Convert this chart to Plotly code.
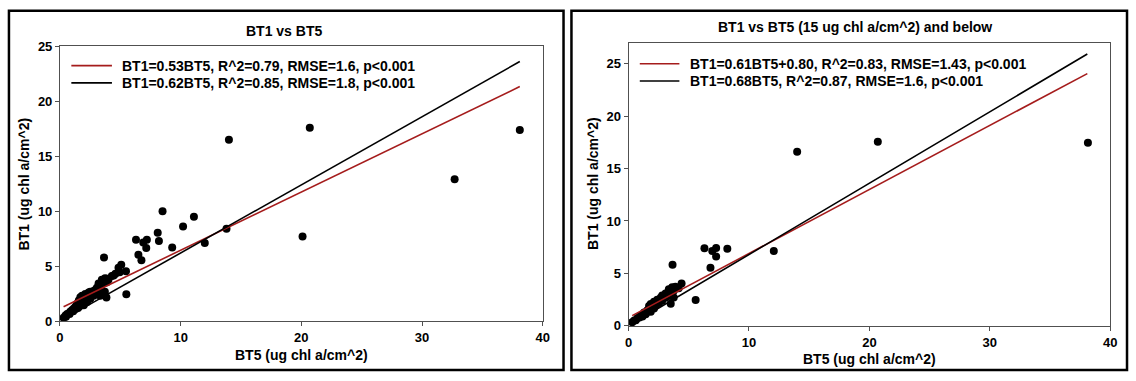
import plotly.graph_objects as go

# ---------------- data ----------------
# Left panel: all samples
bt5_all = [14.0, 20.7, 38.1, 32.7, 20.1, 13.8, 12.0, 11.1, 10.2, 9.3, 8.5, 8.1, 8.2, 7.2, 7.15, 6.9,
           6.5, 6.75, 6.3, 5.47, 5.5, 5.08, 3.65, 3.85, 3.72,
           4.3, 4.6, 4.85, 4.95, 4.45,
           3.47, 3.74, 4.02, 3.61, 3.88, 3.2, 3.9, 3.6,
           3.33, 3.06, 2.79, 2.51, 2.38, 2.1, 1.83, 1.69, 1.56, 1.83, 2.1, 1.42, 1.28, 1.01, 0.74,
           0.46, 0.3, 1.69, 1.97, 2.24, 2.51, 2.79, 3.06, 3.33, 3.33, 1.15, 0.87, 0.6, 1.42, 1.56,
           2.24, 2.46, 2.65, 2.92, 3.2, 3.47, 0.5, 0.8, 1.1, 1.3, 1.5]
bt1_all = [16.5, 17.6, 17.4, 12.9, 7.7, 8.4, 7.1, 9.5, 8.6, 6.7, 10.0, 8.05, 7.3, 7.4, 6.65, 7.15,
           6.05, 5.55, 7.4, 4.55, 2.45, 5.13, 5.8, 2.15, 2.68,
           4.1, 4.3, 4.85, 4.45, 4.15,
           3.77, 3.91, 3.77, 3.48, 3.54, 3.42, 3.85, 3.7,
           3.19, 3.04, 2.75, 2.67, 2.61, 2.46, 2.32, 2.17, 1.88, 1.88, 2.03, 1.59, 1.3, 1.01, 0.72,
           0.52, 0.3, 1.59, 1.45, 1.74, 2.03, 2.32, 2.61, 2.32, 2.75, 1.16, 0.87, 0.64, 1.3, 1.45,
           2.32, 2.38, 2.55, 2.84, 3.13, 3.33, 0.4, 0.65, 0.9, 1.1, 1.2]

# Right panel: subset
bt5_sub = [14.0, 20.7, 38.15, 12.06, 6.3, 6.95, 7.27, 8.2, 7.27, 6.8, 3.65, 4.4, 5.57, 3.5, 3.75,
           3.34, 3.62, 3.89, 4.16, 3.75, 3.48, 3.07, 2.79, 2.66, 2.38, 2.11, 1.84, 1.7, 1.97, 2.25,
           2.52, 1.56, 1.29, 1.01, 0.74, 0.47, 0.3, 1.84, 1.42, 1.15, 2.11, 2.79, 3.07, 3.34, 0.6,
           0.9, 1.2, 1.5, 1.95]
bt1_sub = [16.6, 17.55, 17.45, 7.15, 7.4, 7.15, 7.42, 7.35, 6.62, 5.55, 5.82, 4.05, 2.48, 2.12, 2.7,
           3.5, 3.68, 3.74, 3.59, 3.35, 3.29, 3.08, 2.9, 2.69, 2.49, 2.31, 2.1, 1.89, 1.8, 1.95,
           2.19, 1.5, 1.29, 0.99, 0.75, 0.51, 0.36, 1.35, 1.11, 0.9, 1.65, 2.4, 2.69, 2.84, 0.55,
           0.8, 1.05, 1.3, 2.0]

# regression fits: (slope, intercept)
left_red = (0.53, 1.15)
left_black = (0.62, 0.0)
right_red = (0.61, 0.80)
right_black = (0.68, 0.0)
fit_range = [0.3, 38.1]

titles = ["BT1 vs BT5", "BT1 vs BT5 (15 ug chl a/cm^2) and below"]
legend_left = ["BT1=0.53BT5, R^2=0.79, RMSE=1.6, p<0.001", "BT1=0.62BT5, R^2=0.85, RMSE=1.8, p<0.001"]
legend_right = ["BT1=0.61BT5+0.80, R^2=0.83, RMSE=1.43, p<0.001", "BT1=0.68BT5, R^2=0.87, RMSE=1.6, p<0.001"]
x_title = "BT5 (ug chl a/cm^2)"
y_title = "BT1 (ug chl a/cm^2)"

# ---------------- layout ----------------
W, H = 1136, 381
FONT = "Liberation Sans, Arial, sans-serif"
FS = 14
TFS = 13
RED = "#a51c1c"
AXC = "#505050"


def px(x):
    return x / W


def py(y):
    return 1 - y / H


def line_y(fit, xs):
    return [fit[0] * x + fit[1] for x in xs]


fig = go.Figure()

for (xs, ys, red, black, xa, ya) in [
    (bt5_all, bt1_all, left_red, left_black, "x", "y"),
    (bt5_sub, bt1_sub, right_red, right_black, "x2", "y2"),
]:
    fig.add_trace(go.Scatter(x=xs, y=ys, mode="markers", xaxis=xa, yaxis=ya,
                             marker=dict(color="black", size=8), showlegend=False, cliponaxis=False))
    fig.add_trace(go.Scatter(x=fit_range, y=line_y(red, fit_range), mode="lines", xaxis=xa, yaxis=ya,
                             line=dict(color=RED, width=1.6), showlegend=False))
    fig.add_trace(go.Scatter(x=fit_range, y=line_y(black, fit_range), mode="lines", xaxis=xa, yaxis=ya,
                             line=dict(color="black", width=1.6), showlegend=False))

axis_common = dict(showline=True, mirror=True, linecolor=AXC, linewidth=1, ticks="outside",
                   ticklen=4, tickcolor=AXC, showgrid=False, zeroline=False,
                   tickfont=dict(family=FONT, size=TFS, color="black", weight="bold"))

fig.update_layout(
    width=W, height=H, margin=dict(l=0, r=0, t=0, b=0),
    paper_bgcolor="white", plot_bgcolor="white",
    xaxis=dict(domain=[px(56.5), px(544)], range=[0, 40], tickvals=[0, 10, 20, 30, 40], anchor="y", **axis_common),
    yaxis=dict(domain=[py(327), py(41)], range=[0, 25], tickvals=[0, 5, 10, 15, 20, 25], anchor="x", **axis_common),
    xaxis2=dict(domain=[px(630.7), px(1117)], range=[0, 40], tickvals=[0, 10, 20, 30, 40], anchor="y2", **axis_common),
    yaxis2=dict(domain=[py(332), py(37)], range=[0, 27], tickvals=[0, 5, 10, 15, 20, 25], anchor="x2", **axis_common),
)

shapes = []
# panel borders
for (x0, x1) in [(5, 565), (573, 1134)]:
    shapes.append(dict(type="rect", xref="paper", yref="paper", x0=px(x0), x1=px(x1), y0=py(378), y1=py(4),
                       line=dict(color="black", width=2.5)))
# legend swatches
for (lx0, lx1, ly_red, ly_black) in [(68, 109, 61, 79), (642, 682, 59, 77)]:
    shapes.append(dict(type="line", xref="paper", yref="paper", x0=px(lx0), x1=px(lx1), y0=py(ly_red), y1=py(ly_red),
                       line=dict(color=RED, width=1.6)))
    shapes.append(dict(type="line", xref="paper", yref="paper", x0=px(lx0), x1=px(lx1), y0=py(ly_black), y1=py(ly_black),
                       line=dict(color="black", width=1.6)))
fig.update_layout(shapes=shapes)

ann = []


def text(x, y, s, xanchor="center", angle=0, size=FS):
    ann.append(dict(xref="paper", yref="paper", x=px(x), y=py(y), text=s, showarrow=False,
                    xanchor=xanchor, yanchor="middle", textangle=angle,
                    font=dict(family=FONT, size=size, color="black", weight="bold")))


text(283, 25, titles[0])
text(859, 21, titles[1])
text(300, 362, x_title)
text(874, 366, x_title)
text(20, 184, y_title, angle=-90)
text(595, 184, y_title, angle=-90)
text(117, 61, legend_left[0], xanchor="left")
text(117, 79, legend_left[1], xanchor="left")
text(691, 59, legend_right[0], xanchor="left")
text(691, 77, legend_right[1], xanchor="left")
fig.update_layout(annotations=ann)

fig.write_html("out.html")
